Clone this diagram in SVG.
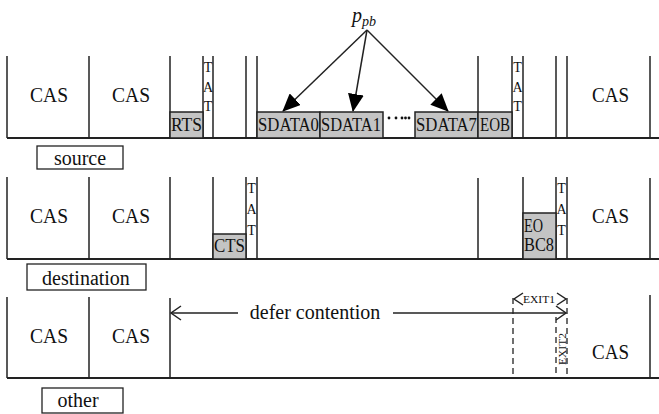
<svg xmlns="http://www.w3.org/2000/svg" width="659" height="414" viewBox="0 0 659 414" font-family="'Liberation Serif', 'DejaVu Serif', serif">
<defs>
<style>
.ln{stroke:#222;stroke-width:1.5;fill:none}
.base{stroke:#222;stroke-width:2;fill:none}
.dash{stroke:#222;stroke-width:1.3;fill:none;stroke-dasharray:6,4}
.box{fill:#c4c4c4;stroke:#222;stroke-width:1.5}
.lbl{fill:#fff;stroke:#222;stroke-width:1.3}
text{font-family:'Liberation Serif','DejaVu Serif',serif;fill:#111}
.cas{font-size:21px}
.bt{font-size:19px}
.tat{font-size:14px;text-anchor:middle}
.nm{font-size:20px;text-anchor:middle}
.sm{font-size:11px}
</style>
<marker id="fa" viewBox="0 0 18 16" refX="17" refY="8" markerWidth="18" markerHeight="16" markerUnits="userSpaceOnUse" orient="auto">
<path d="M0,0 L18,8 L0,16 Z" fill="#000"/>
</marker>
</defs>

<g id="connectors">
<line class="ln" x1="367" y1="30" x2="283" y2="111" marker-end="url(#fa)"/>
<line class="ln" x1="367" y1="30" x2="353" y2="111" marker-end="url(#fa)"/>
<line class="ln" x1="367" y1="30" x2="448" y2="111" marker-end="url(#fa)"/>
<line class="ln" x1="238" y1="313" x2="171" y2="313"/>
<polyline class="ln" points="181,306 171,313 181,320"/>
<line class="ln" x1="393" y1="313" x2="566" y2="313"/>
<polyline class="ln" points="556,306 566,313 556,320"/>
<polyline class="ln" points="523,293 514,299 523,305"/>
<polyline class="ln" points="557,293 566,299 557,305"/>
</g>

<g id="ppb">
<text x="352" y="22" font-size="20" font-style="italic">p<tspan font-size="14" dy="4">pb</tspan></text>
</g>

<g id="row-source">
<line class="base" x1="7" y1="138" x2="659" y2="138"/>
<line class="ln" x1="7" y1="56" x2="7" y2="138"/>
<line class="ln" x1="89" y1="56" x2="89" y2="139"/>
<line class="ln" x1="170" y1="56" x2="170" y2="139"/>
<line class="ln" x1="203" y1="56" x2="203" y2="138"/>
<line class="ln" x1="213" y1="56" x2="213" y2="138"/>
<line class="ln" x1="246" y1="56" x2="246" y2="138"/>
<line class="ln" x1="257" y1="56" x2="257" y2="138"/>
<line class="ln" x1="478" y1="56" x2="478" y2="138"/>
<line class="ln" x1="512" y1="56" x2="512" y2="138"/>
<line class="ln" x1="523" y1="56" x2="523" y2="138"/>
<line class="ln" x1="556" y1="56" x2="556" y2="138"/>
<line class="ln" x1="567" y1="56" x2="567" y2="138"/>
<line class="ln" x1="650" y1="56" x2="650" y2="138"/>
<text class="cas" x="30" y="102" textLength="38" lengthAdjust="spacingAndGlyphs">CAS</text>
<text class="cas" x="112" y="102" textLength="38" lengthAdjust="spacingAndGlyphs">CAS</text>
<text class="cas" x="592" y="102" textLength="37" lengthAdjust="spacingAndGlyphs">CAS</text>
<rect class="box" x="170" y="112" width="33" height="26"/>
<text class="bt" x="171" y="131" textLength="31" lengthAdjust="spacingAndGlyphs">RTS</text>
<text class="tat" x="208" y="72">T</text>
<text class="tat" x="208" y="92">A</text>
<text class="tat" x="208" y="111">T</text>
<rect class="box" x="257" y="112" width="63" height="26"/>
<text class="bt" x="258" y="131" textLength="61" lengthAdjust="spacingAndGlyphs">SDATA0</text>
<rect class="box" x="320" y="112" width="63" height="26"/>
<text class="bt" x="321" y="131" textLength="60" lengthAdjust="spacingAndGlyphs">SDATA1</text>
<g fill="#111">
<circle cx="389" cy="118" r="1.4"/>
<circle cx="396" cy="118" r="1.4"/>
<circle cx="402" cy="118" r="1.4"/>
<circle cx="405.5" cy="118" r="1.4"/>
<circle cx="409" cy="118" r="1.4"/>
</g>
<rect class="box" x="415" y="112" width="63" height="26"/>
<text class="bt" x="416" y="131" textLength="61" lengthAdjust="spacingAndGlyphs">SDATA7</text>
<rect class="box" x="478" y="112" width="34" height="26"/>
<text class="bt" x="480" y="131" textLength="30" lengthAdjust="spacingAndGlyphs">EOB</text>
<text class="tat" x="517.5" y="72">T</text>
<text class="tat" x="517.5" y="92">A</text>
<text class="tat" x="517.5" y="111">T</text>
</g>

<g id="label-source">
<rect class="lbl" x="37" y="146" width="86" height="23"/>
<text class="nm" x="80" y="165">source</text>
</g>

<g id="row-destination">
<line class="base" x1="7" y1="259" x2="659" y2="259"/>
<line class="ln" x1="7" y1="177" x2="7" y2="259"/>
<line class="ln" x1="89" y1="177" x2="89" y2="260"/>
<line class="ln" x1="170" y1="177" x2="170" y2="260"/>
<line class="ln" x1="213" y1="177" x2="213" y2="259"/>
<line class="ln" x1="246" y1="177" x2="246" y2="259"/>
<line class="ln" x1="257" y1="177" x2="257" y2="259"/>
<line class="ln" x1="478" y1="178" x2="478" y2="260"/>
<line class="ln" x1="523" y1="177" x2="523" y2="259"/>
<line class="ln" x1="556" y1="177" x2="556" y2="259"/>
<line class="ln" x1="567" y1="177" x2="567" y2="259"/>
<line class="ln" x1="650" y1="178" x2="650" y2="259"/>
<text class="cas" x="30" y="223" textLength="38" lengthAdjust="spacingAndGlyphs">CAS</text>
<text class="cas" x="112" y="223" textLength="38" lengthAdjust="spacingAndGlyphs">CAS</text>
<text class="cas" x="592" y="223" textLength="37" lengthAdjust="spacingAndGlyphs">CAS</text>
<rect class="box" x="213" y="234" width="33" height="25"/>
<text class="bt" x="214" y="252" textLength="31" lengthAdjust="spacingAndGlyphs">CTS</text>
<text class="tat" x="251.5" y="193">T</text>
<text class="tat" x="251.5" y="214">A</text>
<text class="tat" x="251.5" y="235">T</text>
<rect class="box" x="523" y="213" width="33" height="46"/>
<text class="bt" x="524" y="232" textLength="19" lengthAdjust="spacingAndGlyphs">EO</text>
<text class="bt" x="524" y="251" textLength="30" lengthAdjust="spacingAndGlyphs">BC8</text>
<text class="tat" x="561.5" y="193">T</text>
<text class="tat" x="561.5" y="214">A</text>
<text class="tat" x="561.5" y="235">T</text>
</g>

<g id="label-destination">
<rect class="lbl" x="27" y="264" width="119" height="26"/>
<text class="nm" x="86" y="285">destination</text>
</g>

<g id="row-other">
<line class="base" x1="7" y1="378" x2="659" y2="378"/>
<line class="ln" x1="7" y1="297" x2="7" y2="378"/>
<line class="ln" x1="89" y1="297" x2="89" y2="379"/>
<line class="ln" x1="170" y1="298" x2="170" y2="379"/>
<line class="ln" x1="650" y1="295" x2="650" y2="378"/>
<line class="dash" x1="513" y1="298" x2="513" y2="378"/>
<line class="dash" x1="567" y1="298" x2="567" y2="378"/>
<line class="dash" x1="556" y1="317" x2="556" y2="378"/>
<text class="cas" x="30" y="343" textLength="38" lengthAdjust="spacingAndGlyphs">CAS</text>
<text class="cas" x="112" y="343" textLength="38" lengthAdjust="spacingAndGlyphs">CAS</text>
<text class="cas" x="592" y="359" textLength="37" lengthAdjust="spacingAndGlyphs">CAS</text>
<text x="315" y="319" font-size="20" text-anchor="middle">defer contention</text>
<text class="sm" x="539" y="303" text-anchor="middle" textLength="32" lengthAdjust="spacingAndGlyphs">EXIT1</text>
<text class="sm" x="0" y="0" text-anchor="middle" transform="translate(565.5,349) rotate(-90)" textLength="32" lengthAdjust="spacingAndGlyphs">EXIT2</text>
</g>

<g id="label-other">
<rect class="lbl" x="42" y="388" width="81" height="25"/>
<text class="nm" x="78" y="407">other</text>
</g>
</svg>
